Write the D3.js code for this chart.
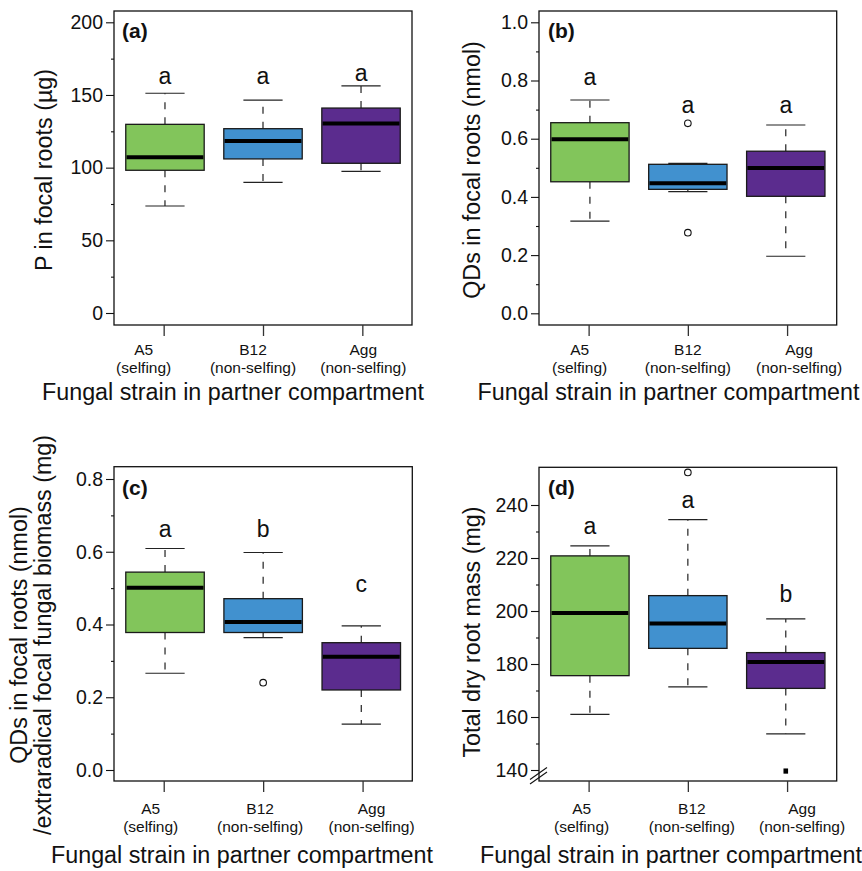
<!DOCTYPE html>
<html><head><meta charset="utf-8">
<script src="https://cdn.jsdelivr.net/npm/d3@7"></script>
<style>
body{margin:0;background:#fff}
svg{display:block}
text{font-family:"Liberation Sans",Arial,Helvetica,sans-serif;fill:#111}
</style>
</head><body>
<svg id="chart" width="862" height="871"></svg>
<script>
// ---------- data ----------
const categories = ["A5","B12","Agg"];
const subLabels = ["(selfing)","(non-selfing)","(non-selfing)"];
const fills = ["#82C55B","#4191CF","#5B2C8E"];
const xTitle = "Fungal strain in partner compartment";

// (a) P in focal roots (µg)
const a_low  = [73.6, 89.9, 97.5];
const a_q1   = [98.2, 106.0, 103.0];
const a_med  = [107.1, 118.3, 130.3];
const a_q3   = [129.8, 126.8, 141.0];
const a_high = [151.2, 146.5, 156.2];
const a_letters = ["a","a","a"];
const a_letterY = [157.6, 157.6, 159.6];
const a_outOpen = [[],[],[]];
const a_outFilled = [[],[],[]];
const a_ticks = [0,50,100,150,200];
const a_minor = [25,75,125,175];

// (b) QDs in focal roots (nmol)
const b_low  = [0.317, 0.418, 0.196];
const b_q1   = [0.452, 0.426, 0.402];
const b_med  = [0.598, 0.447, 0.499];
const b_q3   = [0.655, 0.512, 0.557];
const b_high = [0.733, 0.515, 0.647];
const b_letters = ["a","a","a"];
const b_letterY = [0.785, 0.688, 0.688];
const b_outOpen = [[],[0.653,0.277],[]];
const b_outFilled = [[],[],[]];
const b_ticks = [0,0.2,0.4,0.6,0.8,1.0];
const b_minor = [0.1,0.3,0.5,0.7,0.9];

// (c) QDs / extraradical fungal biomass
const c_low  = [0.266, 0.364, 0.126];
const c_q1   = [0.378, 0.378, 0.220];
const c_med  = [0.501, 0.407, 0.311];
const c_q3   = [0.544, 0.471, 0.350];
const c_high = [0.609, 0.598, 0.396];
const c_letters = ["a","b","c"];
const c_letterY = [0.640, 0.641, 0.490];
const c_outOpen = [[],[0.240],[]];
const c_outFilled = [[],[],[]];
const c_ticks = [0,0.2,0.4,0.6,0.8];
const c_minor = [0.1,0.3,0.5,0.7];

// (d) Total dry root mass (mg)
const d_low  = [161.0, 171.4, 153.6];
const d_q1   = [175.6, 185.9, 170.8];
const d_med  = [199.2, 195.3, 180.8];
const d_q3   = [220.8, 205.8, 184.3];
const d_high = [224.6, 234.5, 197.0];
const d_letters = ["a","a","b"];
const d_letterY = [228.9, 238.7, 203.3];
const d_outOpen = [[],[252.3],[]];
const d_outFilled = [[],[],[139.6]];
const d_ticks = [140,160,180,200,220,240];
const d_minor = [150,170,190,210,230];

// ---------- layout ----------
const panels = [
  {tag:"(a)", low:a_low,q1:a_q1,med:a_med,q3:a_q3,high:a_high,letters:a_letters,letterY:a_letterY,
   outOpen:a_outOpen,outFilled:a_outFilled,ticks:a_ticks,minor:a_minor,fmt:d3.format("d"),
   yDomain:[0,200], yRange:[313,22.3], fr:{x0:114,x1:412,y0:11,y1:325},
   yTitle:["P in focal roots (µg)"], yTitleX:[51.5], yTitleCY:170,
   labOff:[-20,-10,1], labY:[355,373], xTitleX:233, xTitleY:400, tagXY:[122,38], brk:false},
  {tag:"(b)", low:b_low,q1:b_q1,med:b_med,q3:b_q3,high:b_high,letters:b_letters,letterY:b_letterY,
   outOpen:b_outOpen,outFilled:b_outFilled,ticks:b_ticks,minor:b_minor,fmt:d3.format(".1f"),
   yDomain:[0,1], yRange:[313.3,22.3], fr:{x0:539,x1:836.7,y0:11,y1:325},
   yTitle:["QDs in focal roots (nmol)"], yTitleX:[479.5], yTitleCY:170,
   labOff:[-9,0,12], labY:[355,373], xTitleX:668.5, xTitleY:400, tagXY:[548,38], brk:false},
  {tag:"(c)", low:c_low,q1:c_q1,med:c_med,q3:c_q3,high:c_high,letters:c_letters,letterY:c_letterY,
   outOpen:c_outOpen,outFilled:c_outFilled,ticks:c_ticks,minor:c_minor,fmt:d3.format(".1f"),
   yDomain:[0,0.8], yRange:[770,479], fr:{x0:114,x1:412.3,y0:466.7,y1:781},
   yTitle:["QDs in focal roots (nmol)","/extraradical focal fungal biomass (mg)"], yTitleX:[27,50.5], yTitleCY:635,
   labOff:[-13,-3,9], labY:[814.3,832.3], xTitleX:242, xTitleY:863, tagXY:[122,495], brk:false},
  {tag:"(d)", low:d_low,q1:d_q1,med:d_med,q3:d_q3,high:d_high,letters:d_letters,letterY:d_letterY,
   outOpen:d_outOpen,outFilled:d_outFilled,ticks:d_ticks,minor:d_minor,fmt:d3.format("d"),
   yDomain:[140,240], yRange:[770,505], fr:{x0:539,x1:836.7,y0:467.3,y1:781},
   yTitle:["Total dry root mass (mg)"], yTitleX:[479.5], yTitleCY:632,
   labOff:[-7,4,15], labY:[814.3,832.3], xTitleX:671, xTitleY:863, tagXY:[548,495], brk:true}
];

const svg = d3.select("#chart");

panels.forEach(p => {
  const g = svg.append("g");
  const fr = p.fr;
  const y = d3.scaleLinear().domain(p.yDomain).range(p.yRange);
  const xb = d3.scaleBand().domain(categories).range([fr.x0, fr.x1]).paddingInner(0.2).paddingOuter(0.12);
  const xt = d3.scalePoint().domain(categories).range([fr.x0, fr.x1]).padding(0.5);
  const bw = xb.bandwidth();

  categories.forEach((c, i) => {
    const cx = xb(c) + bw/2;
    const cap = bw/2;
    g.append("line").attr("x1",cx).attr("x2",cx).attr("y1",y(p.q3[i])).attr("y2",y(p.high[i]))
      .attr("stroke","#222").attr("stroke-width",1.2).attr("stroke-dasharray","7,8");
    g.append("line").attr("x1",cx).attr("x2",cx).attr("y1",y(p.q1[i])).attr("y2",y(p.low[i]))
      .attr("stroke","#222").attr("stroke-width",1.2).attr("stroke-dasharray","7,8");
    [p.high[i], p.low[i]].forEach(v => {
      g.append("line").attr("x1",cx-cap/2).attr("x2",cx+cap/2).attr("y1",y(v)).attr("y2",y(v))
        .attr("stroke","#222").attr("stroke-width",1.2);
    });
    g.append("rect").attr("x",xb(c)).attr("width",bw)
      .attr("y",y(p.q3[i])).attr("height",y(p.q1[i])-y(p.q3[i]))
      .attr("fill",fills[i]).attr("stroke","#1a1a1a").attr("stroke-width",1.3);
    g.append("line").attr("x1",xb(c)+0.8).attr("x2",xb(c)+bw-0.8).attr("y1",y(p.med[i])).attr("y2",y(p.med[i]))
      .attr("stroke","#000").attr("stroke-width",4);
    p.outOpen[i].forEach(v => {
      g.append("circle").attr("cx",cx).attr("cy",y(v)).attr("r",3.3)
        .attr("fill","none").attr("stroke","#111").attr("stroke-width",1.1);
    });
    p.outFilled[i].forEach(v => {
      g.append("rect").attr("x",cx-2.3).attr("y",y(v)-2.6).attr("width",4.6).attr("height",5.2).attr("fill","#000");
    });
    g.append("text").attr("x",cx).attr("y",y(p.letterY[i])).attr("text-anchor","middle")
      .attr("font-size",23).text(p.letters[i]);
  });

  g.append("rect").attr("x",fr.x0).attr("y",fr.y0).attr("width",fr.x1-fr.x0).attr("height",fr.y1-fr.y0)
    .attr("fill","none").attr("stroke","#111").attr("stroke-width",1.3);

  const ya = g.append("g").attr("transform",`translate(${fr.x0},0)`)
    .call(d3.axisLeft(y).tickValues(p.ticks).tickSize(8).tickPadding(3).tickFormat(p.fmt));
  ya.select(".domain").remove();
  ya.selectAll("line").attr("stroke","#111").attr("stroke-width",1.1);
  ya.selectAll("text").attr("font-size",19.5).attr("font-family","Liberation Sans, Arial, sans-serif").attr("fill","#111");
  const ym = g.append("g").attr("transform",`translate(${fr.x0},0)`)
    .call(d3.axisLeft(y).tickValues(p.minor).tickSize(3).tickFormat(""));
  ym.select(".domain").remove();
  ym.selectAll("line").attr("stroke","#111").attr("stroke-width",1.1);

  const xa = g.append("g").attr("transform",`translate(0,${fr.y1})`)
    .call(d3.axisBottom(xt).tickSize(11).tickFormat(""));
  xa.select(".domain").remove();
  xa.selectAll("line").attr("stroke","#333").attr("stroke-width",1.3);

  categories.forEach((c, i) => {
    const lx = xt(c) + p.labOff[i];
    g.append("text").attr("x",lx).attr("y",p.labY[0]).attr("text-anchor","middle").attr("font-size",15.5).text(c);
    g.append("text").attr("x",lx).attr("y",p.labY[1]).attr("text-anchor","middle").attr("font-size",15.5).text(subLabels[i]);
  });

  g.append("text").attr("x",p.xTitleX).attr("y",p.xTitleY).attr("text-anchor","middle").attr("font-size",23.3).text(xTitle);
  p.yTitle.forEach((t, k) => {
    g.append("text").attr("transform",`translate(${p.yTitleX[k]},${p.yTitleCY}) rotate(-90)`)
      .attr("text-anchor","middle").attr("font-size",23.3).text(t);
  });
  g.append("text").attr("x",p.tagXY[0]).attr("y",p.tagXY[1]).attr("font-size",21).attr("font-weight","bold").text(p.tag);

  if (p.brk) {
    [0,4.5].forEach(o => {
      g.append("line").attr("x1",fr.x0-9).attr("y1",fr.y1+3-o).attr("x2",fr.x0+8).attr("y2",fr.y1-9-o)
        .attr("stroke","#111").attr("stroke-width",1.1);
    });
  }
});
</script>
</body></html>
